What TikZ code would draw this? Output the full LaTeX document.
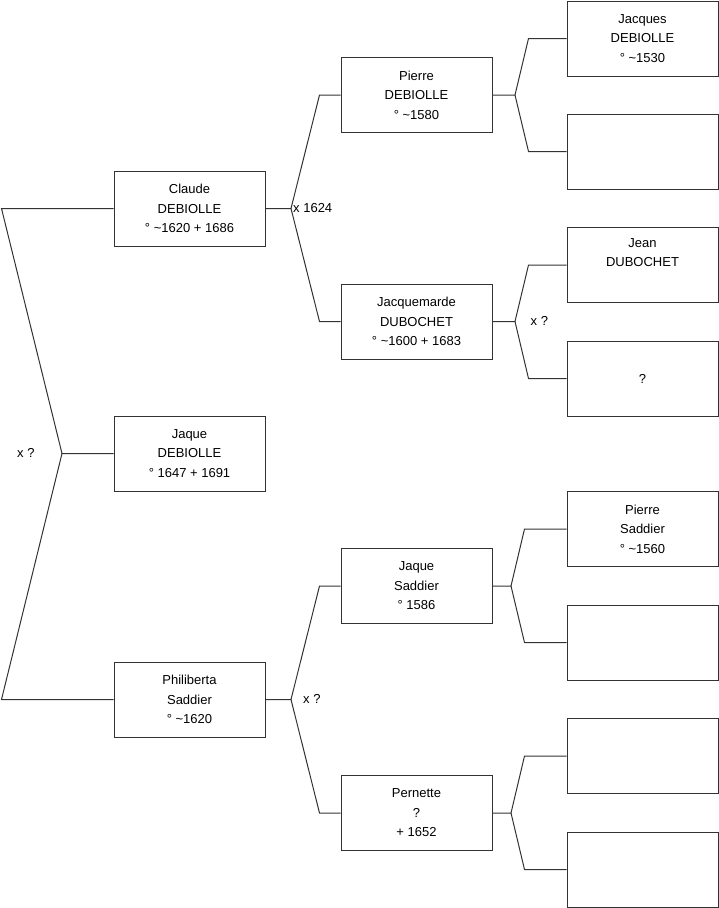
\documentclass[tikz,border=0pt]{standalone}
\usepackage{fontspec}
\setmainfont{Liberation Sans}
\tikzset{
  person box/.style={draw=black!80, rectangle, line width=1pt, minimum width=151pt, minimum height=75pt, inner sep=0pt, align=center, font=\fontsize{13}{19.5}\selectfont},
  union text/.style={anchor=west, inner sep=0pt, font=\fontsize{13}{15}\selectfont},
  link/.style={draw=black!80, line width=1pt}
}

\begin{document}
\begin{tikzpicture}[x=1pt, y=-1pt]
  \useasboundingbox (0,0) rectangle (719,908);

  % generation 1
  \node[person box] (jaque) at (189.5,453.5) {Jaque\\DEBIOLLE\\° 1647 + 1691};

  % parents
  \node[person box] (claude)     at (189.5,208.5) {Claude\\DEBIOLLE\\° \textasciitilde1620 + 1686};
  \node[person box] (philiberta) at (189.5,699.5) {Philiberta\\Saddier\\° \textasciitilde1620};

  % grandparents
  \node[person box] (pierre)      at (416.5,95)    {Pierre\\DEBIOLLE\\° \textasciitilde1580};
  \node[person box] (jacquemarde) at (416.5,321.5) {Jacquemarde\\DUBOCHET\\° \textasciitilde1600 + 1683};
  \node[person box] (jaqueS)      at (416.5,586)   {Jaque\\Saddier\\° 1586};
  \node[person box] (pernette)    at (416.5,813)   {Pernette\\?\\+ 1652};

  % great-grandparents
  \node[person box] (jacques) at (642.5,38.5)  {Jacques\\DEBIOLLE\\° \textasciitilde1530};
  \node[person box] (ggp2)    at (642.5,151.5) {};
  \node[person box] (jean)    at (642.5,265)   {Jean\\DUBOCHET\\\strut};
  \node[person box] (ggp4)    at (642.5,378.5) {?};
  \node[person box] (pierreS) at (642.5,529)   {Pierre\\Saddier\\° \textasciitilde1560};
  \node[person box] (ggp6)    at (642.5,642.5) {};
  \node[person box] (ggp7)    at (642.5,756)   {};
  \node[person box] (ggp8)    at (642.5,869.5) {};

  % forks
  \coordinate (u0) at (62,453.5);
  \coordinate (u1) at (291,208.5);
  \coordinate (u2) at (291,699.5);
  \coordinate (u3) at (515,95);
  \coordinate (u4) at (515,321.5);
  \coordinate (u5) at (511,586);
  \coordinate (u6) at (511,813);

  \draw[link] (jaque.west) -- (u0) -- ([xshift=-112pt]claude.west) -- (claude.west);
  \draw[link] (u0) -- ([xshift=-112pt]philiberta.west) -- (philiberta.west);

  \foreach \kid/\u/\dad/\mom/\gap in {claude/u1/pierre/jacquemarde/21pt,
      philiberta/u2/jaqueS/pernette/21pt, pierre/u3/jacques/ggp2/38pt,
      jacquemarde/u4/jean/ggp4/38pt, jaqueS/u5/pierreS/ggp6/42pt,
      pernette/u6/ggp7/ggp8/42pt} {
    \draw[link] (\kid.east) -- (\u) -- ([xshift=-\gap]\dad.west) -- (\dad.west);
    \draw[link] (\u) -- ([xshift=-\gap]\mom.west) -- (\mom.west);
  }

  % unions
  \node[union text] (m0) at (17,452.5)  {x ?};
  \node[union text] (m1) at (293,208)   {x 1624};
  \node[union text] (m2) at (303,698.5) {x ?};
  \node[union text] (m3) at (530.5,320.5) {x ?};
\end{tikzpicture}
\end{document}
